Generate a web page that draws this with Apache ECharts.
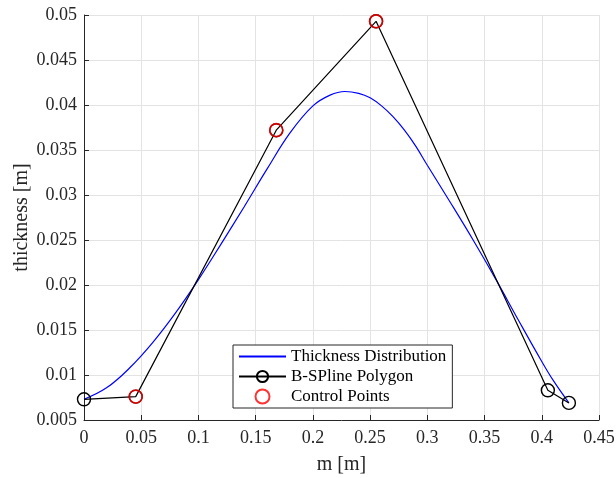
<!DOCTYPE html>
<html>
<head>
<meta charset="utf-8">
<script src="https://cdn.jsdelivr.net/npm/echarts@6/dist/echarts.min.js"></script>
<style>html,body{margin:0;padding:0;background:#fff;}#c{width:616px;height:478px;}</style>
</head>
<body>
<div id="c"></div>
<script>
const curveX = [0, 0.02, 0.04, 0.06, 0.08, 0.10, 0.12, 0.14, 0.16, 0.18, 0.20, 0.215, 0.228, 0.24, 0.25, 0.26, 0.27, 0.28, 0.29, 0.30, 0.32, 0.34, 0.36, 0.38, 0.40, 0.41, 0.4237];
const curveY = [0.0073, 0.0086, 0.0108, 0.0136, 0.0169, 0.0206, 0.0246, 0.0287, 0.0329, 0.0369, 0.0399, 0.0411, 0.0415, 0.0413, 0.0408, 0.0399, 0.0387, 0.0372, 0.0354, 0.0333, 0.0292, 0.0250, 0.0206, 0.0160, 0.0115, 0.0094, 0.0069];
const polyX = [0, 0.0452, 0.168, 0.2552, 0.4053, 0.4237];
const polyY = [0.0073, 0.0076, 0.0372, 0.0493, 0.0083, 0.0069];
const ctrlX = [0.0452, 0.168, 0.2552];
const ctrlY = [0.0076, 0.0372, 0.0493];
const seriesNames = ['Thickness Distribution', 'B-SPline Polygon', 'Control Points'];
const xLabel = 'm [m]';
const yLabel = 'thickness [m]';

const zip = (a, b) => a.map((v, i) => [v, b[i]]);
const FONT = 'Liberation Serif';
const fmt = v => '{t|' + String(+v.toFixed(4)) + '}';
const tickRich = {t: {fontFamily: FONT, fontSize: 18, color: '#262626'}};

const chart = echarts.init(document.getElementById('c'), null, {renderer: 'canvas'});
chart.setOption({
  animation: false,
  backgroundColor: '#fff',
  textStyle: {fontFamily: FONT},
  grid: {left: 84, right: 17, top: 15, bottom: 58, containLabel: false, outerBoundsMode: 'none'},
  legend: {
    orient: 'vertical', left: 233, top: 345,
    padding: [3, 6, 3, 5], itemGap: 3, itemWidth: 47, itemHeight: 14,
    borderColor: '#262626', borderWidth: 1, backgroundColor: '#fff',
    textStyle: {fontFamily: FONT, fontSize: 17, color: '#000'},
    data: [
      {name: seriesNames[0], itemStyle: {opacity: 0}},
      {name: seriesNames[1]},
      {name: seriesNames[2]}
    ]
  },
  xAxis: {
    type: 'value', min: 0, max: 0.45, interval: 0.05,
    name: xLabel, nameLocation: 'middle', nameGap: 35, nameMoveOverlap: false,
    nameTextStyle: {fontFamily: FONT, fontSize: 20, color: '#262626'},
    axisLine: {show: true, lineStyle: {color: '#262626', width: 1}},
    axisTick: {show: true, inside: true, length: 5, lineStyle: {color: '#262626'}},
    axisLabel: {fontFamily: FONT, fontSize: 18, color: '#262626', margin: 9, formatter: fmt, rich: tickRich},
    splitLine: {show: true, lineStyle: {color: '#e3e3e3', width: 1}}
  },
  yAxis: {
    type: 'value', min: 0.005, max: 0.05, interval: 0.005,
    name: yLabel, nameLocation: 'middle', nameGap: 52, nameMoveOverlap: false,
    nameTextStyle: {fontFamily: FONT, fontSize: 20, color: '#262626'},
    axisLine: {show: true, lineStyle: {color: '#262626', width: 1}},
    axisTick: {show: true, inside: true, length: 5, lineStyle: {color: '#262626'}},
    axisLabel: {fontFamily: FONT, fontSize: 18, color: '#262626', margin: 7, formatter: fmt, rich: tickRich},
    splitLine: {show: true, lineStyle: {color: '#e3e3e3', width: 1}}
  },
  series: [
    {
      name: seriesNames[0], type: 'line', data: zip(curveX, curveY),
      smooth: 0.4, showSymbol: false, symbol: 'none',
      lineStyle: {color: '#0000ff', width: 1.2}, itemStyle: {color: '#0000ff'}
    },
    {
      name: seriesNames[1], type: 'line', data: zip(polyX, polyY), z: 3,
      symbol: 'circle', symbolSize: 13, showSymbol: true,
      lineStyle: {color: '#000', width: 1.2},
      itemStyle: {color: 'rgba(0,0,0,0)', borderColor: '#000', borderWidth: 1.4}
    },
    {
      name: seriesNames[2], type: 'scatter', data: zip(ctrlX, ctrlY), z: 6,
      symbol: 'circle', symbolSize: 13,
      itemStyle: {color: 'rgba(0,0,0,0)', borderColor: '#ff0000', borderWidth: 1.7}
    }
  ]
});
</script>
</body>
</html>
